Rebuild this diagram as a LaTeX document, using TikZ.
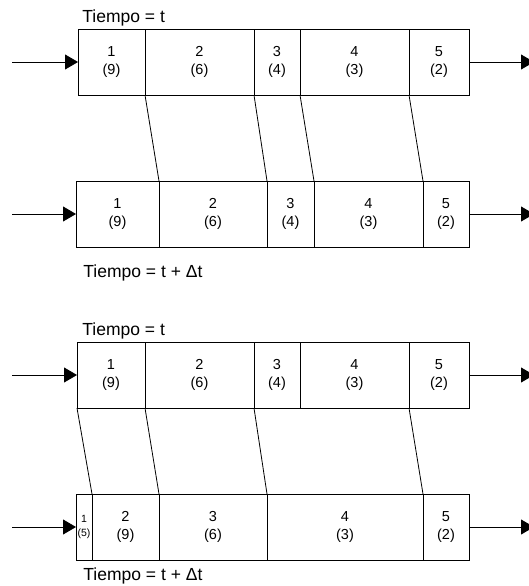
\documentclass[tikz,border=0pt]{standalone}
\usepackage{fontspec}
\setmainfont{Liberation Sans}
\usetikzlibrary{arrows.meta}
\usetikzlibrary{positioning}

\tikzset{
  cell/.style={draw, minimum height=66pt, inner sep=0pt, outer sep=0pt,
    align=center, font=\fontsize{14.5}{18}\selectfont},
  feed/.style={-{Triangle[length=13pt, width=15pt]}},
  tlabel/.style={anchor=base west, inner sep=0pt, font=\fontsize{17.5}{20}\selectfont},
}

\begin{document}
\begin{tikzpicture}[x=1pt, y=-1pt, line width=0.8pt]
\useasboundingbox (0,0) rectangle (528,586);

% Tiempo = t (arriba)
\node[tlabel] (ta) at (82, 23) {Tiempo = t};
\node[cell, minimum width=67pt, anchor=west] (a1) at (78, 62) {1\\(9)};
\node[cell, minimum width=109pt, right=0pt of a1] (a2) {2\\(6)};
\node[cell, minimum width=46pt, right=0pt of a2] (a3) {3\\(4)};
\node[cell, minimum width=109pt, right=0pt of a3] (a4) {4\\(3)};
\node[cell, minimum width=60pt, right=0pt of a4] (a5) {5\\(2)};
\coordinate (feedA) at (12, 62);
\coordinate (drainA) at (534, 62);
\draw[feed] (feedA) -- (a1.west);
\draw[feed] (a5.east) -- (drainA);

% Tiempo = t + Dt (arriba)
\node[cell, minimum width=83pt, anchor=west] (b1) at (76, 214) {1\\(9)};
\node[cell, minimum width=108pt, right=0pt of b1] (b2) {2\\(6)};
\node[cell, minimum width=47pt, right=0pt of b2] (b3) {3\\(4)};
\node[cell, minimum width=109pt, right=0pt of b3] (b4) {4\\(3)};
\node[cell, minimum width=46pt, right=0pt of b4] (b5) {5\\(2)};
\node[tlabel] (tb) at (83, 277) {Tiempo = t + Δt};
\coordinate (feedB) at (12, 214);
\coordinate (drainB) at (534, 214);
\draw[feed] (feedB) -- (b1.west);
\draw[feed] (b5.east) -- (drainB);

\draw (a1.south east) -- (b1.north east);
\draw (a2.south east) -- (b2.north east);
\draw (a3.south east) -- (b3.north east);
\draw (a4.south east) -- (b4.north east);

%%%%%%%%%%%%%%%%%%%%%%%%%%%%%%%%%%%%%%%%

% Tiempo = t (abajo)
\node[tlabel] (tc) at (82, 335) {Tiempo = t};
\node[cell, minimum width=68pt, anchor=west] (c1) at (77, 375) {1\\(9)};
\node[cell, minimum width=109pt, right=0pt of c1] (c2) {2\\(6)};
\node[cell, minimum width=46pt, right=0pt of c2] (c3) {3\\(4)};
\node[cell, minimum width=109pt, right=0pt of c3] (c4) {4\\(3)};
\node[cell, minimum width=60pt, right=0pt of c4] (c5) {5\\(2)};
\coordinate (feedC) at (12, 375);
\coordinate (drainC) at (534, 375);
\draw[feed] (feedC) -- (c1.west);
\draw[feed] (c5.east) -- (drainC);

% Tiempo = t + Dt (abajo)
\node[cell, minimum width=16pt, anchor=west,
  font=\fontsize{10.5}{14}\selectfont] (d1) at (76, 527) {1\\(5)};
\node[cell, minimum width=67pt, right=0pt of d1] (d2) {2\\(9)};
\node[cell, minimum width=108pt, right=0pt of d2] (d3) {3\\(6)};
\node[cell, minimum width=156pt, right=0pt of d3] (d4) {4\\(3)};
\node[cell, minimum width=46pt, right=0pt of d4] (d5) {5\\(2)};
\node[tlabel] (td) at (83, 580) {Tiempo = t + Δt};
\coordinate (feedD) at (12, 527);
\coordinate (drainD) at (534, 527);
\draw[feed] (feedD) -- (d1.west);
\draw[feed] (d5.east) -- (drainD);

\draw (c1.south west) -- (d1.north east);
\draw (c1.south east) -- (d2.north east);
\draw (c2.south east) -- (d3.north east);
\draw (c4.south east) -- (d4.north east);

\end{tikzpicture}
\end{document}
